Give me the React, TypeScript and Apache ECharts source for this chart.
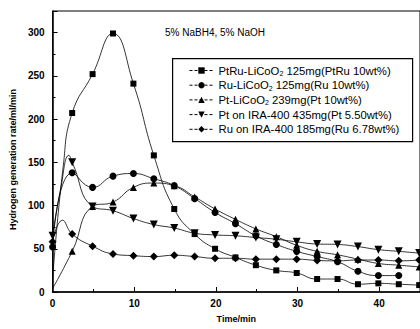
import React, { useEffect, useRef } from "react";
import * as echarts from "echarts";

// ---- data ----
const seriesNames = [
  "PtRu-LiCoO2 125mg(PtRu 10wt%)",
  "Ru-LiCoO2 125mg(Ru 10wt%)",
  "Pt-LiCoO2 239mg(Pt 10wt%)",
  "Pt on IRA-400 435mg(Pt 5.50wt%)",
  "Ru on IRA-400 185mg(Ru 6.78wt%)",
];
const seriesSymbols = ["rect", "circle", "triangle", "path://M0,0 L10,0 L5,9 Z", "diamond"];
const seriesSymbolSizes = [6, 7, 7, 8, 8];

const ptruT = [0, 1.3, 2.4, 4.9, 7.4, 9.9, 12.4, 14.9, 17.4, 19.9, 22.4, 24.9, 27.4, 29.9, 32.4, 34.9, 37.4, 39.9, 42.4, 44.9];
const ptruV = [15, 145, 207, 252, 299, 241, 158, 96, 67, 50, 40, 31, 25, 22, 15, 15, 9, 10, 9, 8];
const ptruNoMark = [0, 1];

const ruT = [0, 2.4, 4.9, 7.4, 9.9, 12.4, 14.9, 17.4, 19.9, 22.4, 24.9, 27.4, 29.9, 32.4, 34.9, 37.4, 39.9, 42.4];
const ruV = [52, 138, 121, 134, 137, 131, 123, 108, 92, 79, 65, 55, 47, 41, 35, 24, 19, 19];
const ruNoMark: number[] = [];

const ptT = [0, 2.4, 4.9, 7.4, 9.9, 12.4, 14.9, 17.4, 19.9, 22.4, 24.9, 27.4, 29.9, 32.4, 34.9, 37.4, 39.9, 42.4, 44.9];
const ptV = [4, 47, 99, 104, 121, 126, 123, 110, 96, 84, 73, 64, 54, 47, 43, 38, 33, 31, 29];
const ptNoMark = [0];

const ptIraT = [0, 1.0, 2.0, 2.4, 4.9, 7.4, 9.9, 12.4, 14.9, 17.4, 19.9, 22.4, 24.9, 27.4, 29.9, 32.4, 34.9, 37.4, 39.9, 42.4, 44.9];
const ptIraV = [65, 120, 158, 150, 99, 94, 85, 78, 74, 68, 66, 65, 63, 61, 58, 55.5, 55, 52.5, 49, 47, 45];
const ptIraNoMark = [1, 2];

const ruIraT = [0, 1.2, 2.4, 4.9, 7.4, 9.9, 12.4, 14.9, 17.4, 19.9, 22.4, 24.9, 27.4, 29.9, 32.4, 34.9, 37.4, 39.9, 42.4, 44.9];
const ruIraV = [58, 83, 67, 53, 44, 42, 41, 42.5, 41, 39, 39, 38, 38, 38, 36.5, 36, 37, 37, 36, 37];
const ruIraNoMark = [1];

const xTicks = { min: 0, max: 45, interval: 10 };
const yTicks = { min: 0, max: 325, interval: 50 };
const annotation = "5% NaBH4, 5% NaOH";
const xName = "Time/min";
const yName = "Hydrogen generation rate/ml/min";

const FONT = "'Liberation Sans', Arial, sans-serif";

function build(t: number[], v: number[], noMark: number[]) {
  return t.map((x, i) =>
    noMark.includes(i) ? { value: [x, v[i]], symbol: "none" } : { value: [x, v[i]] }
  );
}

export default function App() {
  const ref = useRef<HTMLDivElement>(null);
  useEffect(() => {
    if (!ref.current) return;
    const chart = echarts.init(ref.current, undefined, { renderer: "svg" });
    const datasets = [
      build(ptruT, ptruV, ptruNoMark),
      build(ruT, ruV, ruNoMark),
      build(ptT, ptV, ptNoMark),
      build(ptIraT, ptIraV, ptIraNoMark),
      build(ruIraT, ruIraV, ruIraNoMark),
    ];
    chart.setOption({
      animation: false,
      backgroundColor: "#fff",
      grid: {
        left: 50,
        top: 11,
        bottom: 37,
        right: -2,
        show: true,
        borderColor: "#000",
        borderWidth: 1,
      },
      xAxis: {
        type: "value",
        min: xTicks.min,
        max: xTicks.max,
        interval: xTicks.interval,
        name: xName,
        nameLocation: "middle",
        nameGap: 22,
        nameTextStyle: { fontFamily: FONT, fontSize: 9, fontWeight: "bold", color: "#000" },
        axisLine: { lineStyle: { color: "#000", width: 1.5 } },
        axisTick: { inside: true, length: 5, lineStyle: { color: "#000", width: 1 } },
        minorTick: { show: true, splitNumber: 2, length: 3, lineStyle: { color: "#000" } },
        splitLine: { show: false },
        axisLabel: {
          showMaxLabel: false,
          margin: 6,
          fontFamily: FONT,
          fontSize: 10,
          fontWeight: "bold",
          color: "#000",
        },
      },
      yAxis: {
        type: "value",
        min: yTicks.min,
        max: yTicks.max,
        interval: yTicks.interval,
        name: yName,
        nameLocation: "middle",
        nameGap: 28,
        nameTextStyle: {
          fontFamily: FONT,
          fontSize: 9,
          fontWeight: "bold",
          color: "#000",
          padding: [0, 16, 0, 0],
        },
        axisLine: { show: true, lineStyle: { color: "#000", width: 1.5 } },
        axisTick: { show: true, inside: true, length: 5, lineStyle: { color: "#000" } },
        minorTick: { show: true, splitNumber: 2, length: 3, lineStyle: { color: "#000" } },
        splitLine: { show: false },
        axisLabel: {
          showMaxLabel: false,
          margin: 8,
          fontFamily: FONT,
          fontSize: 10,
          fontWeight: "bold",
          color: "#000",
        },
      },
      legend: {
        orient: "vertical",
        left: 172,
        top: 58,
        padding: [6, 5, 5, 17],
        itemWidth: 24,
        itemHeight: 8,
        itemGap: 1.7,
        borderWidth: 0,
        z: 10,
        data: seriesNames,
        lineStyle: { type: [3, 2], width: 1 },
        textStyle: {
          fontFamily: FONT,
          fontSize: 11.3,
          lineHeight: 13,
          color: "#000",
          rich: {
            sub: {
              fontFamily: FONT,
              fontSize: 7,
              lineHeight: 13,
              color: "#000",
              verticalAlign: "bottom",
              padding: [5, 0, 0, 0],
            },
          },
        },
        formatter: (name: string) => name.replace("LiCoO2", "LiCoO{sub|2}"),
      },
      graphic: [
        {
          type: "rect",
          left: 172,
          top: 58,
          z: 5,
          shape: { width: 240, height: 83 },
          style: { fill: "#fff", stroke: "#000", lineWidth: 1.2 },
        },
        {
          type: "text",
          left: 165,
          top: 27,
          style: { text: annotation, fontFamily: FONT, fontSize: 10, fill: "#000" },
        },
      ],
      series: seriesNames.map((name, i) => ({
        name,
        type: "line",
        smooth: 0.5,
        data: datasets[i],
        symbol: seriesSymbols[i],
        symbolSize: seriesSymbolSizes[i],
        showAllSymbol: true,
        lineStyle: { color: "#000", width: 0.8 },
        itemStyle: { color: "#000" },
        z: 2 + i,
      })),
    });
    return () => chart.dispose();
  }, []);
  return (
    <div
      ref={ref}
      style={{ position: "fixed", left: 0, top: 0, width: 420, height: 329, background: "#fff" }}
    />
  );
}
